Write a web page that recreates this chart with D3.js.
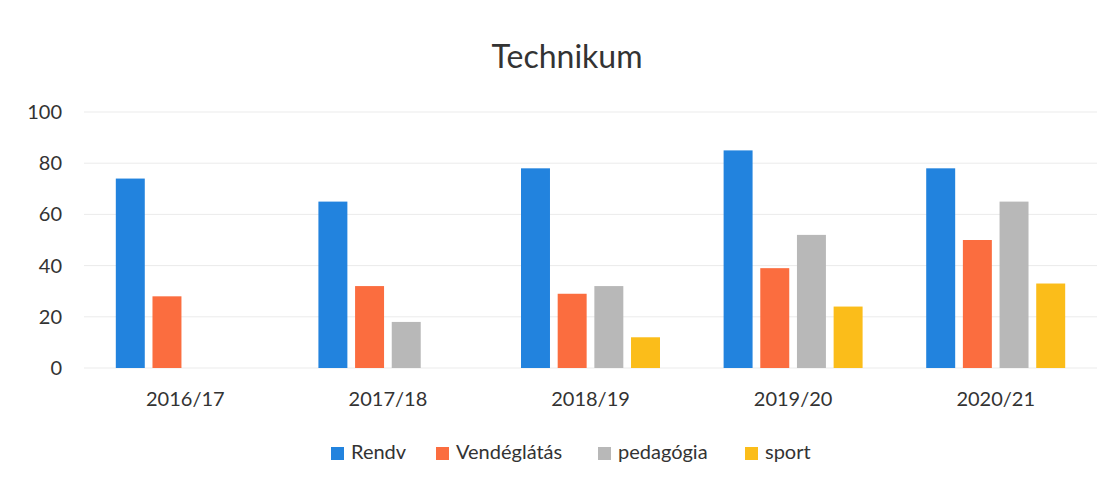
<!DOCTYPE html>
<html>
<head>
<meta charset="utf-8">
<script src="https://cdn.jsdelivr.net/npm/d3@7"></script>
<style>
  body { margin: 0; background: #fff; }
  svg text { font-family: Lato, "Open Sans", sans-serif; fill: #333; }
</style>
</head>
<body>
<svg id="chart" width="1113" height="485"></svg>
<script>
// data
var years = ["2016/17", "2017/18", "2018/19", "2019/20", "2020/21"];
var seriesNames = ["Rendv", "Vendéglátás", "pedagógia", "sport"];
var rendv = [74, 65, 78, 85, 78];
var vendeglatas = [28, 32, 29, 39, 50];
var pedagogia = [0, 18, 32, 52, 65];
var sport = [0, 0, 12, 24, 33];
var yTicks = [0, 20, 40, 60, 80, 100];

var seriesValues = [rendv, vendeglatas, pedagogia, sport];
var colors = ["#2283de", "#fb6d3f", "#b8b8b8", "#fbbd1a"];

var svg = d3.select("#chart");
var margin = { left: 84, right: 16, top: 112, bottom: 117 };
var width = 1113 - margin.left - margin.right;
var height = 485 - margin.top - margin.bottom;

var g = svg.append("g").attr("transform", "translate(" + margin.left + "," + margin.top + ")");

var x0 = d3.scaleBand().domain(years).range([0, width]).paddingInner(0.314).paddingOuter(0.157);
var x1 = d3.scaleBand().domain(seriesNames).range([0, x0.bandwidth()]).paddingInner(0.21).paddingOuter(0);
var y = d3.scaleLinear().domain([0, 100]).range([height, 0]);

// gridlines
g.append("g").selectAll("line").data(yTicks).enter().append("line")
    .attr("x1", 0).attr("x2", width)
    .attr("y1", function (d) { return y(d); })
    .attr("y2", function (d) { return y(d); })
    .attr("stroke", "#ebebeb").attr("stroke-width", 1);

// y axis labels
var yAxis = g.append("g").call(d3.axisLeft(y).tickValues(yTicks).tickSize(0).tickPadding(22));
yAxis.select(".domain").remove();
yAxis.selectAll("text").style("font-size", "20px").attr("fill", "#333");

// x axis labels
var xAxis = g.append("g").attr("transform", "translate(0," + height + ")")
    .call(d3.axisBottom(x0).tickSize(0).tickPadding(24));
xAxis.select(".domain").remove();
xAxis.selectAll("text").style("font-size", "20px").attr("fill", "#333");

// bars
var groups = g.selectAll(".year").data(years).enter().append("g")
    .attr("class", "year")
    .attr("transform", function (d) { return "translate(" + x0(d) + ",0)"; });

groups.selectAll("rect")
    .data(function (d, i) {
        return seriesNames.map(function (s, j) { return { name: s, value: seriesValues[j][i], color: colors[j] }; });
    })
    .enter().append("rect")
    .attr("x", function (d) { return x1(d.name); })
    .attr("width", x1.bandwidth())
    .attr("y", function (d) { return y(d.value); })
    .attr("height", function (d) { return y(0) - y(d.value); })
    .attr("fill", function (d) { return d.color; });

// title
svg.append("text").attr("x", 567).attr("y", 68).attr("text-anchor", "middle")
    .style("font-size", "32px").text("Technikum");

// legend
var legendX = [331, 436, 598, 745];
var legend = svg.append("g").selectAll("g").data(seriesNames).enter().append("g")
    .attr("transform", function (d, i) { return "translate(" + legendX[i] + ",447)"; });
legend.append("rect").attr("width", 13).attr("height", 13)
    .attr("fill", function (d, i) { return colors[i]; });
legend.append("text").attr("x", 20).attr("y", 12).style("font-size", "20px")
    .text(function (d) { return d; });
</script>
</body>
</html>
